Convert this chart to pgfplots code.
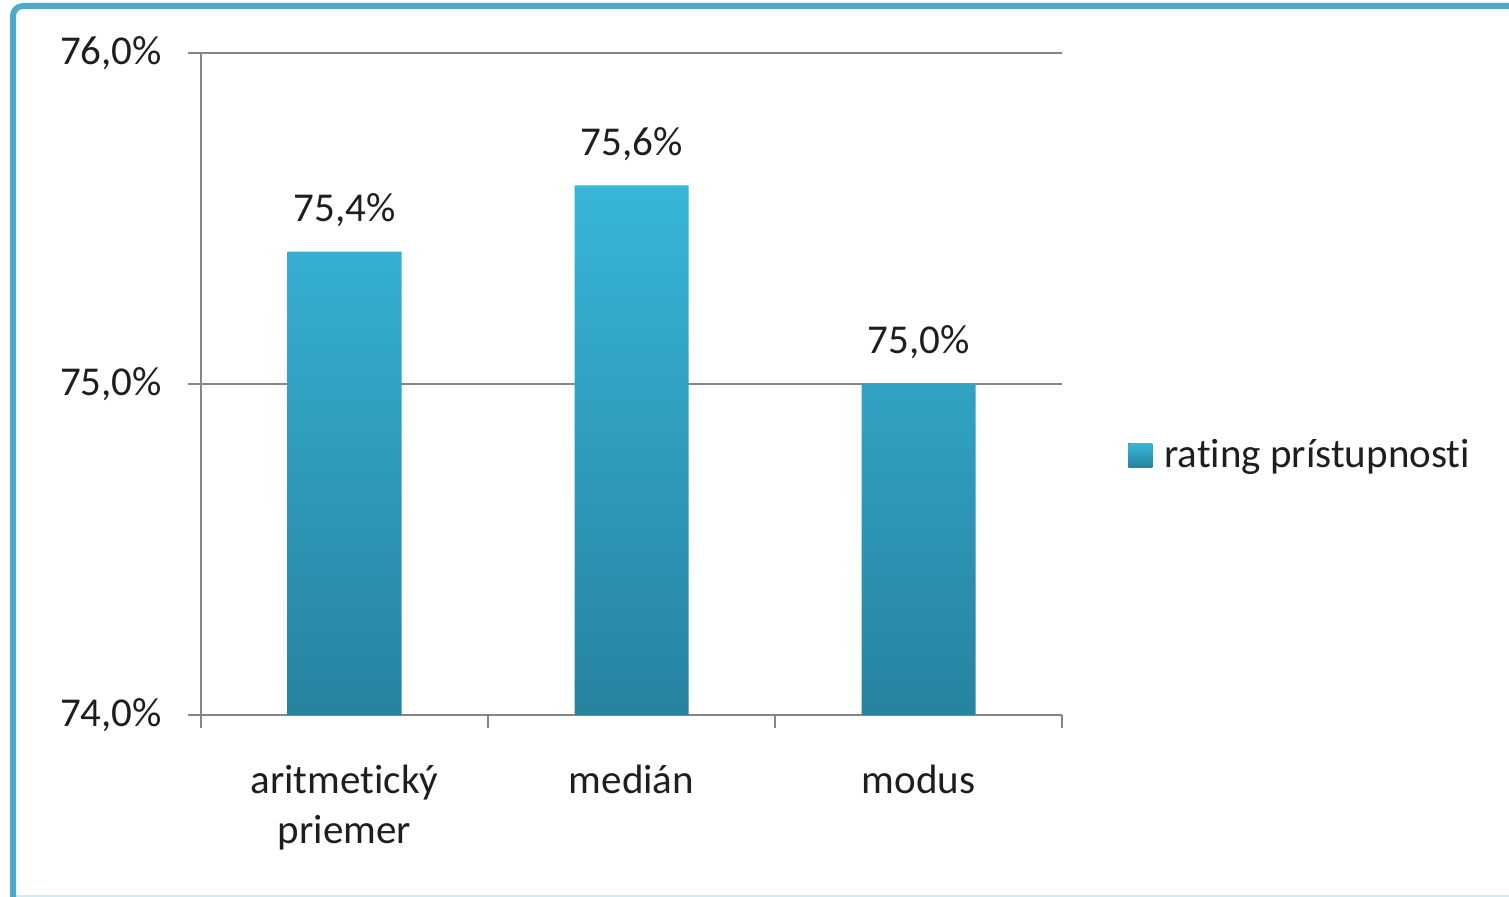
\documentclass[border=0pt]{standalone}
\usepackage{pgfplots}
\pgfplotsset{compat=1.18}
\usepackage{pgfplotstable}
\usepackage{fontspec}
\setmainfont{Carlito}[Ligatures=NoCommon]

\definecolor{frameblue}{HTML}{4BACC6}
\definecolor{framelight}{HTML}{CFECF3}
\definecolor{bartop}{HTML}{37B5D9}
\definecolor{barbot}{HTML}{2783A0}
\definecolor{gridgray}{HTML}{868686}
\definecolor{txt}{HTML}{1E1E1E}

% hodnoty ratingu pristupnosti (v %)
\pgfplotstableread{
x y
0 75.4
1 75.6
2 75.0
}\ratingdata

\begin{document}
\begin{tikzpicture}
\path[use as bounding box] (0,0) rectangle (754.5pt,448.5pt);

% ramik grafu
\begin{scope}
\clip (0,0) rectangle (754.5pt,448.5pt);
\draw[framelight, line width=0.8pt] (6.5pt,0.6pt) -- (800pt,0.6pt);
\draw[frameblue, line width=3pt, rounded corners=5pt] (6.5pt,-20pt) -- (6.5pt,445.5pt) -- (800pt,445.5pt);
\end{scope}

\begin{axis}[
    at={(100.5pt,91pt)}, anchor=south west,
    scale only axis,
    width=430.5pt, height=331pt,
    xmin=-0.5, xmax=2.5,
    ymin=0, ymax=2,
    axis x line*=bottom,
    axis y line*=left,
    axis line style={gridgray, line width=0.8pt, -},
    tick style={gridgray, line width=0.8pt},
    tick align=outside,
    major tick length=6.5pt,
    xtick={-0.5,0.5,1.5,2.5},
    x tick label as interval,
    xticklabels={aritmetický\\priemer, medián, modus},
    xticklabel style={align=center, text=txt, font=\fontsize{20.5}{25}\selectfont, yshift=-15pt},
    ytick={0,1,2},
    yticklabel={\pgfmathparse{\tick+74}\pgfmathprintnumber[fixed,fixed zerofill,precision=1,use comma]{\pgfmathresult}\%},
    yticklabel style={text=txt, font=\fontsize{20.5}{25}\selectfont, xshift=-9.5pt},
    /pgf/number format/assume math mode=true,
    ymajorgrids,
    grid style={gridgray, line width=0.8pt},
    clip=false,
    legend style={at={(1.0767,0.3927)}, anchor=west, draw=none, fill=none,
        font=\fontsize{20.5}{25}\selectfont, text=txt, inner sep=0pt},
    legend image code/.code={
        \fill[top color=bartop, bottom color=barbot] (0pt,-6pt) rectangle (12pt,6pt);
        \path (0pt,0pt) -- (16pt,0pt);
    },
]
\addplot[
    ybar, bar width=57pt, draw=none,
    top color=bartop, bottom color=barbot,
    nodes near coords={\pgfmathprintnumber[fixed,fixed zerofill,precision=1,use comma]{\pgfplotspointmeta}\%},
    nodes near coords style={anchor=base, yshift=15pt, text=txt, font=\fontsize{20.5}{25}\selectfont},
    point meta=explicit,
] table[x=x, y expr=\thisrow{y}-74, meta=y] {\ratingdata};
\addlegendentry{rating prístupnosti}
\end{axis}
\end{tikzpicture}
\end{document}
